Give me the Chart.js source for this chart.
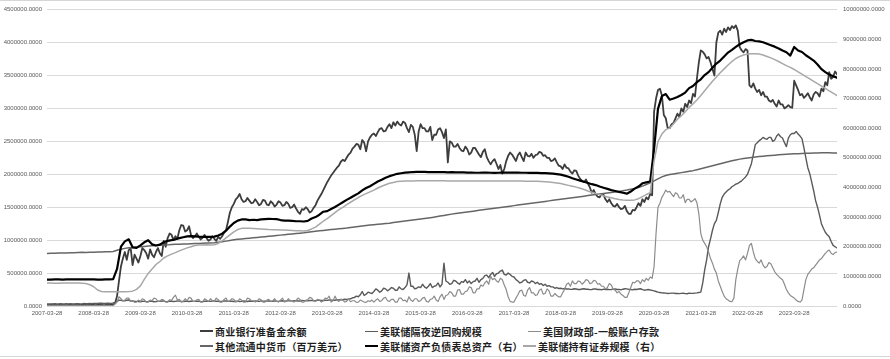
<!DOCTYPE html>
<html>
<head>
<meta charset="utf-8">
<script src="https://cdn.jsdelivr.net/npm/chart.js@4.4.1/dist/chart.umd.min.js"></script>
<style>
  html, body { margin: 0; padding: 0; background: #fff; }
  #wrap { position: relative; width: 890px; height: 359px; overflow: hidden; }
  .rule { position: absolute; left: 0; width: 890px; height: 1px; background: #d6d6d6; }
  #chartBox { position: absolute; left: 0; top: 0; width: 890px; height: 322px; }
  #legend { position: absolute; left: 0; top: 322px; width: 890px; height: 34px;
            font-family: "Noto Sans CJK SC", sans-serif; font-weight: 700; font-size: 10px;
            letter-spacing: 0.2px; color: #1e1e1e; }
  .item { position: absolute; display: flex; align-items: center; white-space: nowrap; height: 14px; }
  .swatch { display: inline-block; width: 13px; margin-right: 2px; }
</style>
</head>
<body>
<div id="wrap">
  <div class="rule" style="top:0"></div>
  <div id="chartBox"><canvas id="chart" width="890" height="322"></canvas></div>
  <div id="legend"></div>
  <div class="rule" style="top:356px"></div>
</div>
<script>
// x axis is months since 2007-03 (one tick label per year)
const tickLabels = ['2007-03-28', '2008-03-28', '2009-03-28', '2010-03-28', '2011-03-28', '2012-03-28',
  '2013-03-28', '2014-03-28', '2015-03-28', '2016-03-28', '2017-03-28', '2018-03-28',
  '2019-03-28', '2020-03-28', '2021-03-28', '2022-03-28', '2023-03-28'];

// left axis, noisy series: two readings per month (one row = Mar..Feb), thousands of 百万美元
const reserves = [
  18, 14, 15, 19, 20, 13, 16, 21, 18, 15, 22, 17, 17, 20, 15, 18, 20, 14, 18, 22, 25, 17, 16, 20,
  18, 21, 15, 17, 20, 14, 17, 23, 22, 18, 20, 45, 150, 380, 600, 720, 820, 700, 850, 880, 620, 780, 720, 660,
  760, 880, 850, 800, 720, 860, 780, 740, 820, 880, 800, 760, 990, 900, 1030, 1100, 1080, 1000, 1060, 1020, 1150, 1230, 1220, 1130,
  1150, 1210, 1080, 1030, 1060, 1100, 1050, 1010, 1040, 1080, 1030, 990, 1010, 1060, 1020, 990, 1050, 1020, 1060, 1110, 1150, 1280, 1420, 1500,
  1550, 1620, 1650, 1700, 1620, 1580, 1590, 1640, 1600, 1560, 1570, 1620, 1580, 1530, 1550, 1610, 1600, 1540, 1530, 1590, 1560, 1510, 1540, 1590,
  1570, 1520, 1530, 1580, 1550, 1490, 1500, 1540, 1480, 1430, 1400, 1470, 1460, 1500, 1470, 1420, 1440, 1490, 1530, 1600, 1650, 1700, 1760, 1820,
  1880, 1930, 1980, 2020, 2060, 2100, 2130, 2190, 2220, 2200, 2250, 2300, 2330, 2390, 2420, 2460, 2450, 2380, 2520, 2480, 2350, 2500, 2560, 2600,
  2620, 2580, 2640, 2690, 2700, 2650, 2660, 2720, 2760, 2700, 2790, 2740, 2800, 2760, 2740, 2800, 2780, 2700, 2640, 2750, 2720, 2600, 2350, 2650,
  2760, 2700, 2700, 2650, 2650, 2720, 2520, 2600, 2600, 2680, 2700, 2640, 2550, 2680, 2180, 2500, 2480, 2420, 2420, 2460, 2400, 2360, 2350, 2420,
  2380, 2300, 2330, 2400, 2400, 2350, 2300, 2260, 2340, 2380, 2260, 2200, 2150, 2200, 2230, 2160, 2080, 2140, 2010, 2080, 2200, 2280, 2330, 2300,
  2250, 2200, 2290, 2330, 2260, 2200, 2330, 2280, 2270, 2310, 2250, 2290, 2300, 2340, 2330, 2280, 2290, 2250, 2250, 2200, 2210, 2240, 2180, 2130,
  2120, 2080, 2150, 2100, 2090, 2040, 2010, 2060, 2050, 1980, 1930, 1900, 1880, 1920, 1860, 1800, 1720, 1760, 1700, 1660, 1650, 1700, 1690, 1620,
  1580, 1620, 1560, 1520, 1510, 1550, 1500, 1470, 1480, 1520, 1440, 1400, 1400, 1460, 1450, 1500, 1560, 1520, 1620, 1580, 1650, 1620, 1700, 1680,
  2950, 3150, 3280, 3300, 3200, 2900, 2850, 2700, 2700, 2760, 2780, 2850, 2920, 2870, 3000, 2950, 3070, 3020, 3120, 3080, 3220, 3180, 3450, 3700,
  3880, 3860, 3820, 3760, 3780, 3700, 3600, 3500, 4000, 4150, 4180, 4120, 4210, 4160, 4230, 4190, 4250, 4220, 4260, 4180, 3930, 3880, 3850, 3900,
  3880, 3350, 3320, 3380, 3300, 3250, 3280, 3200, 3250, 3180, 3180, 3120, 3100, 3130, 3070, 3030, 3120, 3060, 3060, 3000, 3020, 3050, 3020, 3010,
  3420, 3350, 3280, 3200, 3220, 3160, 3190, 3230, 3170, 3120, 3210, 3250, 3230, 3180, 3300, 3260, 3400, 3350, 3550, 3450, 3480, 3560, 3520, 3470
];
const reverseRepo = [
  32, 30, 30, 33, 35, 31, 33, 36, 30, 33, 36, 32, 34, 31, 31, 35, 35, 32, 33, 37, 36, 34, 38, 35,
  40, 37, 38, 42, 42, 38, 39, 43, 41, 40, 45, 55, 70, 90, 85, 78, 80, 88, 90, 76, 75, 72, 70, 68,
  65, 72, 70, 66, 68, 74, 72, 65, 66, 71, 70, 76, 75, 66, 68, 73, 72, 69, 70, 75, 74, 68, 69, 72,
  72, 68, 75, 71, 70, 74, 73, 67, 68, 72, 74, 70, 70, 75, 76, 71, 72, 68, 71, 76, 75, 70, 70, 73,
  68, 72, 74, 69, 70, 76, 72, 68, 76, 73, 70, 75, 73, 70, 78, 74, 72, 77, 75, 70, 70, 76, 74, 71,
  76, 80, 72, 77, 78, 82, 74, 79, 80, 76, 75, 83, 82, 78, 78, 84, 85, 80, 80, 88, 88, 83, 84, 87,
  86, 92, 90, 87, 88, 95, 92, 98, 95, 102, 98, 105, 110, 125, 130, 150, 140, 170, 220, 160, 180, 210, 200, 190,
  220, 260, 240, 210, 230, 270, 260, 230, 250, 280, 270, 240, 240, 290, 260, 250, 280, 320, 500, 300, 300, 260, 270, 290,
  280, 330, 290, 270, 300, 340, 280, 300, 310, 350, 290, 330, 650, 380, 360, 330, 340, 390, 380, 350, 330, 370, 360, 400,
  350, 380, 340, 370, 380, 420, 360, 400, 420, 460, 470, 430, 480, 510, 450, 490, 500, 530, 545, 480, 470, 500, 480, 450,
  440, 400, 380, 350, 360, 390, 400, 360, 350, 380, 370, 340, 360, 330, 340, 310, 330, 300, 310, 290, 290, 270, 280, 265,
  270, 260, 265, 258, 260, 252, 255, 262, 258, 250, 250, 258, 262, 255, 255, 248, 250, 260, 258, 250, 252, 246, 256, 250,
  255, 248, 250, 256, 258, 250, 252, 245, 255, 262, 260, 252, 250, 245, 254, 250, 258, 262, 248, 240, 245, 250, 242, 238,
  230, 220, 210, 205, 200, 198, 195, 190, 192, 196, 195, 190, 190, 188, 192, 195, 188, 186, 195, 192, 192, 196, 200, 205,
  210, 350, 550, 700, 900, 1020, 1150, 1250, 1300, 1420, 1550, 1650, 1700, 1730, 1760, 1780, 1810, 1830, 1850, 1860, 1880, 1900, 1930, 1960,
  2000, 2080, 2160, 2300, 2450, 2480, 2510, 2530, 2560, 2540, 2530, 2560, 2560, 2500, 2520, 2580, 2610, 2570, 2550, 2480, 2420, 2550, 2600, 2620,
  2620, 2650, 2610, 2580, 2540, 2400, 2250, 2100, 2010, 1880, 1750, 1600, 1500, 1380, 1250, 1180, 1120, 1080, 1050, 980, 920, 900, 880, 870
];
const treasuryDeposits = [
  8, 6, 6, 9, 10, 7, 7, 10, 9, 11, 12, 8, 6, 9, 8, 10, 10, 7, 7, 9, 9, 11, 8, 7,
  9, 12, 7, 8, 10, 9, 8, 11, 9, 7, 8, 30, 60, 140, 110, 80, 90, 120, 120, 70, 80, 55, 60, 90,
  70, 110, 95, 60, 60, 90, 80, 120, 110, 70, 75, 100, 90, 60, 60, 95, 85, 130, 165, 90, 100, 60, 70, 110,
  80, 130, 120, 70, 70, 95, 100, 60, 60, 110, 90, 70, 110, 80, 70, 120, 95, 60, 60, 100, 120, 70, 80, 110,
  100, 60, 70, 110, 90, 60, 60, 120, 110, 80, 80, 60, 75, 110, 95, 60, 60, 90, 100, 70, 80, 110, 70, 60,
  90, 120, 60, 70, 110, 80, 70, 60, 85, 120, 100, 60, 60, 90, 95, 130, 120, 80, 70, 100, 90, 60, 80, 120,
  110, 150, 60, 80, 150, 90, 70, 100, 90, 60, 70, 110, 65, 80, 80, 55, 60, 90, 75, 60, 55, 80, 70, 90,
  60, 90, 110, 70, 80, 120, 130, 80, 70, 100, 100, 60, 60, 120, 120, 80, 90, 60, 140, 90, 70, 110, 110, 70,
  80, 120, 130, 70, 60, 100, 110, 150, 90, 70, 140, 180, 100, 160, 170, 220, 200, 150, 150, 240, 250, 180, 180, 220,
  230, 290, 280, 200, 200, 260, 260, 320, 300, 350, 380, 330, 450, 400, 420, 380, 360, 420, 400, 320, 250, 140, 70, 60,
  60, 120, 170, 230, 240, 160, 150, 240, 280, 200, 200, 160, 170, 240, 260, 180, 190, 260, 230, 150, 150, 190, 160, 140,
  140, 200, 250, 330, 350, 300, 380, 340, 340, 380, 370, 330, 360, 400, 390, 340, 350, 390, 380, 330, 340, 300, 300, 260,
  280, 340, 320, 250, 240, 200, 220, 180, 160, 130, 130, 200, 280, 360, 350, 380, 380, 340, 400, 370, 420, 390, 440, 420,
  600, 1100, 1500, 1560, 1650, 1700, 1760, 1730, 1740, 1700, 1660, 1720, 1700, 1640, 1640, 1690, 1570, 1620, 1620, 1580, 1600, 1630, 1570, 1400,
  1100, 1000, 950, 900, 820, 720, 650, 560, 500, 380, 300, 220, 150, 110, 90, 70, 65, 120, 400, 560, 690, 720, 760, 700,
  800, 920, 950, 820, 720, 680, 650, 700, 620, 580, 600, 660, 640, 580, 520, 480, 450, 420, 400, 330, 250, 200, 160, 140,
  120, 90, 70, 60, 90, 250, 400, 480, 520, 560, 580, 620, 660, 700, 720, 760, 800, 830, 850, 800, 780, 810, 820, 800
];
// left axis, smooth series: one reading per month
const currency = [
  798, 800, 802, 803, 805, 806, 808, 810, 812, 815, 813, 815,
  817, 818, 820, 822, 825, 828, 845, 862, 875, 885, 890, 895,
  900, 905, 910, 915, 918, 922, 925, 928, 932, 936, 938, 940,
  942, 945, 948, 950, 953, 956, 958, 962, 968, 975, 985, 995,
  1005, 1012, 1018, 1024, 1030, 1035, 1040, 1046, 1052, 1058, 1064, 1070,
  1076, 1082, 1088, 1094, 1100, 1106, 1112, 1120, 1128, 1136, 1142, 1148,
  1154, 1160, 1166, 1172, 1178, 1184, 1192, 1200, 1208, 1216, 1222, 1228,
  1234, 1240, 1246, 1252, 1258, 1266, 1274, 1282, 1290, 1298, 1305, 1312,
  1320, 1328, 1336, 1345, 1355, 1365, 1375, 1385, 1395, 1405, 1412, 1420,
  1428, 1436, 1444, 1452, 1460, 1468, 1476, 1484, 1492, 1500, 1508, 1516,
  1524, 1532, 1540, 1548, 1556, 1564, 1572, 1580, 1588, 1596, 1604, 1612,
  1620, 1628, 1636, 1644, 1652, 1660, 1668, 1676, 1684, 1692, 1700, 1708,
  1716, 1724, 1732, 1740, 1750, 1760, 1772, 1784, 1800, 1820, 1845, 1870,
  1900, 1930, 1960, 1980, 1995, 2005, 2015, 2025, 2035, 2045, 2055, 2070,
  2085, 2100, 2115, 2130, 2145, 2160, 2175, 2190, 2205, 2218, 2230, 2240,
  2248, 2255, 2262, 2268, 2274, 2280, 2285, 2290, 2295, 2300, 2303, 2306,
  2310, 2312, 2315, 2318, 2320, 2322, 2323, 2325, 2326, 2325, 2324, 2323
];

// right axis, one reading per month, thousands of 百万美元
const totalAssets = [
  890, 890, 895, 895, 890, 895, 895, 900, 895, 895, 900, 895,
  895, 890, 890, 895, 900, 905, 1250, 2000, 2180, 2250, 1980, 1960,
  2045, 2150, 2220, 2080, 2040, 2070, 2150, 2200, 2220, 2250, 2290, 2320,
  2350, 2360, 2350, 2340, 2335, 2330, 2330, 2340, 2380, 2440, 2540, 2680,
  2800, 2880, 2920, 2920, 2900, 2910, 2900, 2920, 2930, 2940, 2935, 2930,
  2900, 2880, 2880, 2870, 2860, 2860, 2850, 2870, 2950, 3000, 3080, 3180,
  3200, 3270, 3340, 3420, 3500, 3580, 3650, 3730, 3800, 3900, 3980, 4040,
  4120, 4200, 4260, 4330, 4380, 4420, 4460, 4480, 4500, 4510, 4520, 4525,
  4525, 4525, 4520, 4520, 4520, 4515, 4515, 4510, 4515, 4510, 4505, 4505,
  4500, 4500, 4495, 4495, 4500, 4500, 4495, 4490, 4495, 4500, 4500, 4500,
  4500, 4500, 4495, 4495, 4490, 4490, 4490, 4485, 4480, 4475, 4465, 4450,
  4430, 4400, 4360, 4310, 4270, 4230, 4190, 4150, 4110, 4080, 4030, 3990,
  3950, 3910, 3880, 3850, 3820, 3790, 3860, 3960, 4030, 4140, 4170, 4200,
  5300, 6650, 7080, 7150, 6960, 7000, 7050, 7120, 7200, 7350, 7420, 7550,
  7650, 7790, 7890, 8040, 8180, 8280, 8420, 8550, 8640, 8740, 8830, 8900,
  8960, 8980, 8940, 8930, 8900, 8850, 8800, 8750, 8690, 8620, 8560, 8450,
  8740, 8620, 8570, 8460, 8370, 8280, 8150, 7990, 7890, 7810, 7750, 7700
];
const securities = [
  775, 775, 770, 770, 775, 780, 780, 780, 775, 770, 760, 720,
  650, 540, 490, 480, 478, 478, 478, 480, 480, 485, 500, 560,
  680, 900, 1100, 1250, 1400, 1500, 1620, 1690, 1750, 1800, 1860, 1910,
  1960, 2000, 2040, 2055, 2060, 2065, 2060, 2065, 2110, 2200, 2300, 2400,
  2500, 2580, 2620, 2620, 2620, 2615, 2610, 2600, 2590, 2580, 2575, 2570,
  2565, 2560, 2555, 2550, 2540, 2535, 2530, 2545, 2600, 2660, 2760, 2860,
  2950, 3050, 3150, 3250, 3330, 3420, 3500, 3580, 3660, 3730, 3790, 3850,
  3910, 3980, 4040, 4090, 4140, 4170, 4200, 4210, 4215, 4220, 4220, 4225,
  4225, 4225, 4225, 4225, 4225, 4225, 4222, 4220, 4220, 4220, 4220, 4220,
  4220, 4220, 4218, 4218, 4218, 4215, 4215, 4215, 4215, 4215, 4215, 4215,
  4215, 4215, 4215, 4212, 4210, 4210, 4210, 4200, 4190, 4180, 4165, 4150,
  4130, 4100, 4070, 4040, 4010, 3970, 3930, 3880, 3840, 3800, 3760, 3720,
  3680, 3650, 3620, 3595, 3575, 3565, 3565, 3580, 3620, 3690, 3760, 3820,
  4900, 5550, 5800, 5950, 6000, 6150, 6300, 6420, 6550, 6700, 6820, 6950,
  7100, 7260, 7420, 7580, 7730, 7870, 8000, 8130, 8250, 8350, 8420, 8470,
  8500, 8510, 8510, 8500, 8470, 8420, 8370, 8310, 8250, 8180, 8110, 8050,
  7980, 7900, 7820, 7740, 7660, 7580, 7500, 7420, 7340, 7260, 7180, 7100
];

// perMonth: readings per month in the array
const seriesList = [
  { name: '商业银行准备金余额', values: reserves, perMonth: 2, axis: 'yL', color: '#3d3d3d', width: 1.8 },
  { name: '美联储隔夜逆回购规模', values: reverseRepo, perMonth: 2, axis: 'yL', color: '#5a5a5a', width: 1.4 },
  { name: '美国财政部-一般账户存款', values: treasuryDeposits, perMonth: 2, axis: 'yL', color: '#8c8c8c', width: 1.2 },
  { name: '其他流通中货币（百万美元）', values: currency, perMonth: 1, axis: 'yL', color: '#666666', width: 1.5 },
  { name: '美联储资产负债表总资产（右）', values: totalAssets, perMonth: 1, axis: 'yR', color: '#000000', width: 2.2 },
  { name: '美联储持有证券规模（右）', values: securities, perMonth: 1, axis: 'yR', color: '#a8a8a8', width: 1.5 }
];

const tickFont = { family: "'Liberation Sans', Arial, sans-serif", size: 6 };
const tickColor = '#595959';

const datasets = seriesList.map((s, i) => ({
  label: s.name,
  data: s.values.map((v, k) => ({ x: k / s.perMonth, y: v })),
  yAxisID: s.axis,
  borderColor: s.color,
  backgroundColor: s.color,
  borderWidth: s.width,
  pointRadius: 0,
  tension: 0,
  borderJoinStyle: 'round',
  borderCapStyle: 'round',
  order: -i // later series drawn on top
}));

new Chart(document.getElementById('chart'), {
  type: 'line',
  data: { datasets },
  options: {
    responsive: false,
    animation: false,
    devicePixelRatio: 1,
    layout: { padding: { top: 9, left: 0, right: 0, bottom: 0 } },
    plugins: { legend: { display: false }, tooltip: { enabled: false } },
    scales: {
      x: {
        type: 'linear',
        min: 0,
        max: 203,
        afterBuildTicks: axis => { axis.ticks = tickLabels.map((_, i) => ({ value: i * 12 })); },
        afterFit: scale => { scale.height = 16; },
        grid: { display: false, drawTicks: false },
        border: { display: false },
        ticks: {
          autoSkip: false, maxRotation: 0, minRotation: 0, padding: 4,
          font: tickFont, color: tickColor,
          callback: (value, index) => tickLabels[index]
        }
      },
      yL: {
        position: 'left',
        min: 0,
        max: 4500,
        afterFit: scale => { scale.width = 47; },
        grid: { color: '#d9d9d9', lineWidth: 1, drawTicks: false },
        border: { display: false },
        ticks: {
          stepSize: 500, padding: 5, font: tickFont, color: tickColor,
          callback: v => (v * 1000).toFixed(4)
        }
      },
      yR: {
        position: 'right',
        min: 0,
        max: 10000,
        afterFit: scale => { scale.width = 53; },
        grid: { display: false, drawTicks: false },
        border: { display: false },
        ticks: {
          stepSize: 1000, padding: 6, font: tickFont, color: tickColor,
          callback: v => (v * 1000).toFixed(4)
        }
      }
    }
  }
});

// legend, three columns over two rows like the original
const legendSpots = [[200, 2], [365, 2], [528, 2], [200, 17], [365, 17], [523, 17]];
const legend = document.getElementById('legend');
seriesList.forEach((s, i) => {
  const item = document.createElement('div');
  item.className = 'item';
  item.style.left = legendSpots[i][0] + 'px';
  item.style.top = legendSpots[i][1] + 'px';
  const swatch = document.createElement('span');
  swatch.className = 'swatch';
  swatch.style.height = Math.max(1, Math.round(s.width)) + 'px';
  swatch.style.background = s.color;
  const text = document.createElement('span');
  text.textContent = s.name;
  item.appendChild(swatch);
  item.appendChild(text);
  legend.appendChild(item);
});
</script>
</body>
</html>
